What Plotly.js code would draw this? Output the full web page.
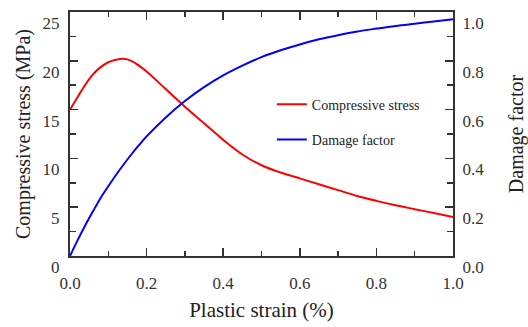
<!DOCTYPE html>
<html>
<head>
<meta charset="utf-8">
<script src="https://cdn.plot.ly/plotly-3.0.1.min.js"></script>
<style>
  html, body { margin: 0; padding: 0; background: #fff; }
  #chart { width: 528px; height: 327px; }
</style>
</head>
<body>
<div id="chart"></div>
<script>
// Plastic strain (%)
const strain = [0, 0.02, 0.04, 0.06, 0.08, 0.10, 0.12, 0.14, 0.16, 0.18, 0.20,
                0.25, 0.30, 0.35, 0.40, 0.45, 0.50, 0.55, 0.60, 0.65, 0.70,
                0.75, 0.80, 0.85, 0.90, 0.95, 1.0];
// Compressive stress (MPa), left axis
const stress = [15.0, 16.3, 17.55, 18.6, 19.35, 19.85, 20.1, 20.2, 20.0, 19.5, 18.9,
                17.1, 15.3, 13.6, 11.9, 10.4, 9.3, 8.55, 7.95, 7.35, 6.75,
                6.15, 5.65, 5.2, 4.8, 4.4, 4.0];
// Damage factor, right axis
const damage = [0, 0.065, 0.126, 0.183, 0.238, 0.286, 0.332, 0.375, 0.416, 0.454, 0.490,
                0.568, 0.635, 0.692, 0.740, 0.780, 0.815, 0.843, 0.867, 0.888, 0.905,
                0.920, 0.932, 0.943, 0.952, 0.961, 0.970];

const serif = 'Liberation Serif, Times New Roman, serif';
const axisColor = '#333';

const traces = [
  {
    x: strain, y: stress, name: 'Compressive stress', type: 'scatter', mode: 'lines',
    line: { color: '#ff0000', width: 2, shape: 'spline', smoothing: 1 },
    legendgroup: 'stress', yaxis: 'y'
  },
  {
    x: strain, y: damage, name: 'Damage factor', type: 'scatter', mode: 'lines',
    line: { color: '#0000ff', width: 2, shape: 'spline', smoothing: 1 },
    legendgroup: 'damage', yaxis: 'y2'
  }
];

const tickFont = { family: serif, size: 17, color: '#333' };
const titleFont = { family: serif, size: 20, color: '#222' };

const layout = {
  width: 528, height: 327,
  margin: { l: 70, r: 75, t: 12, b: 71 },
  paper_bgcolor: '#fff', plot_bgcolor: '#fff',
  showlegend: true,
  legend: {
    x: 0.527, y: 0.686, xanchor: 'left', yanchor: 'top',
    bgcolor: 'rgba(0,0,0,0)', font: { family: serif, size: 14, color: '#222' },
    tracegroupgap: 14, traceorder: 'grouped'
  },
  xaxis: {
    range: [0, 1], dtick: 0.2, tickformat: '.1f',
    ticks: 'inside', ticklen: 8, tickwidth: 1.5, tickcolor: axisColor,
    minor: { dtick: 0.1, ticks: 'inside', ticklen: 5, tickwidth: 1.5, tickcolor: axisColor },
    showline: true, linecolor: axisColor, linewidth: 2, mirror: 'ticks',
    showgrid: false, zeroline: false,
    tickfont: tickFont, ticklabelstandoff: 11,
    title: { text: 'Plastic strain (%)', font: { family: serif, size: 21, color: '#222' }, standoff: 10 }
  },
  yaxis: {
    range: [0, 25], dtick: 5, tickformat: 'd',
    ticks: 'inside', ticklen: 8, tickwidth: 1.5, tickcolor: axisColor,
    minor: { dtick: 2.5, ticks: 'inside', ticklen: 6, tickwidth: 1.5, tickcolor: axisColor },
    showline: true, linecolor: axisColor, linewidth: 2,
    showgrid: false, zeroline: false,
    tickfont: tickFont, ticklabelstandoff: 5, ticklabelshift: 11,
    title: { text: 'Compressive stress (MPa)', font: titleFont, standoff: 7 }
  },
  yaxis2: {
    overlaying: 'y', side: 'right',
    range: [0, 1], dtick: 0.2, tickformat: '.1f',
    ticks: 'inside', ticklen: 8, tickwidth: 1.5, tickcolor: axisColor,
    minor: { dtick: 0.1, ticks: 'inside', ticklen: 6, tickwidth: 1.5, tickcolor: axisColor },
    showline: true, linecolor: axisColor, linewidth: 2,
    showgrid: false, zeroline: false,
    tickfont: tickFont, ticklabelstandoff: 4, ticklabelshift: 11,
    title: { text: 'Damage factor', font: titleFont, standoff: 30 }
  }
};

Plotly.newPlot('chart', traces, layout, { displayModeBar: false, staticPlot: true });
</script>
</body>
</html>
